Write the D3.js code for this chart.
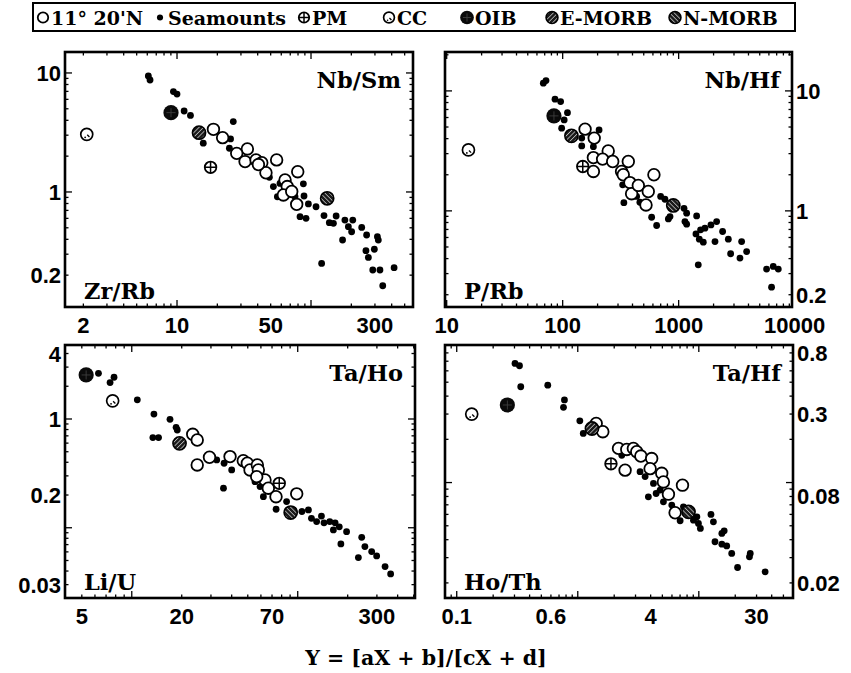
<!DOCTYPE html>
<html><head><meta charset="utf-8">
<script src="https://cdn.jsdelivr.net/npm/d3@7/dist/d3.min.js"></script>
<style>body{margin:0;background:#fff}svg{display:block}</style>
</head><body><svg id="c" width="851" height="673"></svg>
<script>
// ---------------- DATA ----------------
const legendLabels = ["11° 20'N", "Seamounts", "PM", "CC", "OIB", "E-MORB", "N-MORB"];
const refNames = ["PM", "CC", "OIB", "E-MORB", "N-MORB"];
const xTitle = "Y = [aX + b]/[cX + d]";

// Panel 1: X = Zr/Rb, Y = Nb/Sm
const p1Names = ["Zr/Rb", "Nb/Sm"];
const p1XTicks = [2, 10, 50, 300];
const p1YTicks = [0.2, 1, 10];
const p1Ridge = [[18.7,3.36],[21.9,2.86],[33.5,2.30],[27.9,2.11],[32.2,1.80],[38.9,1.86],[42.9,1.76],[46.1,1.45],[55.4,1.86],[64.0,1.26],[66.5,1.11],[62.2,0.944],[71.8,1.01],[79.6,1.48],[78.2,0.787],[40.5,1.70]];
const p1Seamounts = [[6.11,9.43],[6.29,8.73],[9.40,6.97],[10.0,6.65],[11.3,4.79],[12.6,4.40],[26.3,3.90],[15.7,2.57],[25.1,2.79],[24.6,2.33],[56.1,0.912],[58.7,1.18],[87.7,1.17],[88.7,0.925],[95.6,0.793],[82.8,0.620],[91.8,0.600],[109,0.751],[125,0.633],[137,0.552],[147,0.545],[154,0.628],[120,0.251],[172,0.395],[179,0.581],[190,0.511],[201,0.463],[205,0.581],[239,0.504],[260,0.435],[257,0.321],[297,0.330],[268,0.282],[313,0.421],[318,0.394],[289,0.221],[327,0.221],[417,0.231],[343,0.163],[48.9,1.33],[52.4,1.11],[76,0.912]];
const p1Ref = [[17.8,1.61],[2.12,3.05],[9.02,4.64],[14.6,3.15],[132,0.885]];

// Panel 2: X = P/Rb, Y = Nb/Hf
const p2Names = ["P/Rb", "Nb/Hf"];
const p2XTicks = [10, 100, 1000, 10000];
const p2YTicks = [0.2, 1, 10];
const p2Ridge = [[156,4.80],[187,4.04],[184,2.78],[184,2.13],[247,3.16],[221,2.70],[270,2.58],[322,2.13],[368,2.58],[333,2.00],[380,1.72],[393,1.39],[449,1.63],[547,1.45],[523,1.12],[612,2.00]];
const p2Seamounts = [[68.1,11.6],[71.8,12.2],[85.9,8.53],[96.0,8.15],[78.7,6.04],[98,4.89],[110,6.59],[103,5.73],[146,4.04],[146,3.48],[206,4.73],[184,3.43],[329,1.65],[337,1.17],[463,1.18],[585,0.885],[646,0.755],[699,1.32],[762,1.25],[842,0.897],[815,0.857],[1112,1.05],[1172,0.957],[1133,0.815],[1172,0.774],[1429,0.908],[1410,0.643],[1507,0.581],[1631,0.548],[1476,0.355],[1545,0.695],[1685,0.718],[1899,0.764],[2125,0.815],[2057,0.555],[2393,0.673],[2681,0.581],[2806,0.439],[3491,0.555],[3377,0.404],[3855,0.458],[5729,0.327],[6543,0.344],[7229,0.327],[6324,0.231],[434,1.32],[566,1.40]];
const p2Ref = [[149,2.34],[15.4,3.22],[84.1,6.19],[119,4.22],[899,1.11]];

// Panel 3: X = Li/U, Y = Ta/Ho
const p3Names = ["Li/U", "Ta/Ho"];
const p3XTicks = [5, 20, 70, 300];
const p3YTicks = [0.03, 0.2, 1, 4];
const p3Ridge = [[23.3,0.723],[24.8,0.641],[24.8,0.378],[29.4,0.445],[39.1,0.451],[47.0,0.414],[49.7,0.392],[51.6,0.340],[57.1,0.378],[57.9,0.340],[63.5,0.275],[66.5,0.231],[74.0,0.193],[98.6,0.205],[56.6,0.295]];
const p3Seamounts = [[6.30,2.63],[7.40,2.16],[7.82,2.42],[10.8,1.50],[13.6,1.11],[13.4,0.675],[14.5,0.675],[17.0,0.993],[18.5,0.838],[18.8,0.792],[32.5,0.420],[36.0,0.392],[40.0,0.340],[35.7,0.231],[55.3,0.265],[59.3,0.239],[62.1,0.193],[74.1,0.148],[85.7,0.174],[94.1,0.146],[106,0.141],[116,0.146],[121,0.122],[130,0.114],[139,0.128],[144,0.111],[156,0.114],[168,0.111],[164,0.0955],[178,0.102],[197,0.092],[182,0.071],[243,0.0817],[254,0.0671],[279,0.0604],[299,0.0551],[232,0.0532],[336,0.0440],[363,0.0376]];
const p3Ref = [[77.4,0.256],[7.67,1.47],[5.31,2.54],[19.4,0.597],[90.7,0.138]];

// Panel 4: X = Ho/Th, Y = Ta/Hf
const p4Names = ["Ho/Th", "Ta/Hf"];
const p4XTicks = [0.1, 0.6, 4, 30];
const p4YTicks = [0.02, 0.08, 0.3, 0.8];
const p4Ridge = [[1.42,0.258],[1.61,0.226],[2.17,0.173],[2.54,0.170],[2.88,0.173],[3.07,0.164],[3.32,0.153],[4.08,0.147],[3.96,0.125],[2.46,0.122],[4.94,0.116],[5.10,0.101],[5.61,0.0830],[7.33,0.0959],[6.37,0.0616]];
const p4Seamounts = [[0.303,0.676],[0.330,0.651],[0.338,0.465],[0.565,0.477],[0.776,0.376],[0.762,0.334],[1.04,0.269],[1.11,0.220],[2.31,0.155],[3.27,0.119],[3.60,0.110],[3.83,0.0796],[4.22,0.0986],[4.79,0.0886],[4.44,0.0839],[5.10,0.0734],[5.98,0.0697],[7.01,0.0542],[7.46,0.0678],[9.03,0.0547],[9.93,0.0519],[10.3,0.0479],[9.64,0.0577],[12.6,0.0600],[13.2,0.0533],[13.6,0.0387],[15.5,0.0442],[16.2,0.0461],[15.5,0.0372],[17.0,0.0362],[18.7,0.0321],[20.9,0.0256],[26.6,0.0321],[26.2,0.0304],[35.3,0.0239]];
const p4Ref = [[1.88,0.135],[0.133,0.300],[0.262,0.347],[1.31,0.238],[8.22,0.0625]];

// ---------------- LAYOUT ----------------
const svg = d3.select("#c");
const defs = svg.append("defs");
function hatch(id, angle) {
  const p = defs.append("pattern").attr("id", id).attr("patternUnits", "userSpaceOnUse")
    .attr("width", 3.2).attr("height", 3.2).attr("patternTransform", `rotate(${angle})`);
  p.append("rect").attr("width", 3.2).attr("height", 3.2).attr("fill", "#1a1a1a");
  p.append("line").attr("x1", 0).attr("y1", 0).attr("x2", 0).attr("y2", 3.2)
    .attr("stroke", "#fff").attr("stroke-width", 1.1);
}
hatch("hE", 45);
hatch("hN", -45);

const serif = "'DejaVu Serif', serif";
const sans = "'Liberation Sans', Arial, sans-serif";

function sym(g, type, cx, cy, s = 1) {
  if (type === "ridge") {
    g.append("circle").attr("cx", cx).attr("cy", cy).attr("r", 5.8 * s)
      .attr("fill", "#fff").attr("stroke", "#000").attr("stroke-width", 1.8);
  } else if (type === "sea") {
    g.append("circle").attr("cx", cx).attr("cy", cy).attr("r", 3.4 * s).attr("fill", "#000");
  } else if (type === "PM") {
    const r = 5.8 * s;
    g.append("circle").attr("cx", cx).attr("cy", cy).attr("r", r)
      .attr("fill", "#fff").attr("stroke", "#000").attr("stroke-width", 1.8);
    g.append("path").attr("d", `M${cx - r},${cy}H${cx + r}M${cx},${cy - r}V${cy + r}`)
      .attr("stroke", "#000").attr("stroke-width", 1.5);
  } else if (type === "CC") {
    const r = 6 * s;
    g.append("circle").attr("cx", cx).attr("cy", cy).attr("r", r)
      .attr("fill", "#fff").attr("stroke", "#000").attr("stroke-width", 1.7);
    g.append("path").attr("d", `M${cx + 0.5 * s},${cy + 0.5 * s}l${2.2 * s},${2.2 * s}`)
      .attr("stroke", "#000").attr("stroke-width", 1.3);
    g.append("circle").attr("cx", cx - 1.6 * s).attr("cy", cy + 3 * s).attr("r", 0.9 * s).attr("fill", "#000");
  } else if (type === "OIB") {
    const r = 7.6 * s;
    g.append("circle").attr("cx", cx).attr("cy", cy).attr("r", r).attr("fill", "#0a0a0a");
    g.append("path").attr("d", `M${cx - r * 0.6},${cy}H${cx + r * 0.6}M${cx},${cy - r * 0.6}V${cy + r * 0.6}`)
      .attr("stroke", "#444").attr("stroke-width", 0.8);
  } else if (type === "E-MORB" || type === "N-MORB") {
    g.append("circle").attr("cx", cx).attr("cy", cy).attr("r", 6.6 * s)
      .attr("fill", type === "E-MORB" ? "url(#hE)" : "url(#hN)")
      .attr("stroke", "#000").attr("stroke-width", 1.6);
  }
}

const fmt = v => (v >= 1 ? d3.format("d")(v) : String(v));

const panels = [
  { names: p1Names, xt: p1XTicks, yt: p1YTicks, ridge: p1Ridge, sea: p1Seamounts, ref: p1Ref,
    x0: 65, x1: 413, y0: 52, y1: 307, xd: [1.459, 577], yd: [0.108, 15.0], ySide: "left" },
  { names: p2Names, xt: p2XTicks, yt: p2YTicks, ridge: p2Ridge, sea: p2Seamounts, ref: p2Ref,
    x0: 445, x1: 792, y0: 52, y1: 307, xd: [9.67, 9490], yd: [0.158, 21.1], ySide: "right" },
  { names: p3Names, xt: p3XTicks, yt: p3YTicks, ridge: p3Ridge, sea: p3Seamounts, ref: p3Ref,
    x0: 65, x1: 415, y0: 345, y1: 598, xd: [3.96, 509], yd: [0.0226, 4.79], ySide: "left" },
  { names: p4Names, xt: p4XTicks, yt: p4YTicks, ridge: p4Ridge, sea: p4Seamounts, ref: p4Ref,
    x0: 445, x1: 793, y0: 345, y1: 598, xd: [0.08, 60], yd: [0.0157, 0.908], ySide: "right" }
];

panels.forEach(P => {
  const x = d3.scaleLog().domain(P.xd).range([P.x0, P.x1]);
  const y = d3.scaleLog().domain(P.yd).range([P.y1, P.y0]);
  const g = svg.append("g");

  // ticks (inward on all four sides)
  const isMajor = v => Math.abs(Math.log10(v) - Math.round(Math.log10(v))) < 1e-6;
  const tg = g.append("g").attr("stroke", "#000").attr("stroke-width", 1.3);
  x.ticks().forEach(v => {
    const L = isMajor(v) ? 7 : 3.5, px = x(v);
    if (px <= P.x0 + 1 || px >= P.x1 - 1) return;
    tg.append("line").attr("x1", px).attr("x2", px).attr("y1", P.y1).attr("y2", P.y1 - L);
    tg.append("line").attr("x1", px).attr("x2", px).attr("y1", P.y0).attr("y2", P.y0 + L);
  });
  y.ticks().forEach(v => {
    const L = isMajor(v) ? 7 : 3.5, py = y(v);
    if (py <= P.y0 + 1 || py >= P.y1 - 1) return;
    tg.append("line").attr("y1", py).attr("y2", py).attr("x1", P.x0).attr("x2", P.x0 + L);
    tg.append("line").attr("y1", py).attr("y2", py).attr("x1", P.x1).attr("x2", P.x1 - L);
  });

  // frame
  g.append("rect").attr("x", P.x0).attr("y", P.y0).attr("width", P.x1 - P.x0).attr("height", P.y1 - P.y0)
    .attr("fill", "none").attr("stroke", "#000").attr("stroke-width", 2.6);

  // tick labels
  P.xt.forEach(v => {
    g.append("text").attr("x", x(v)).attr("y", P.y1 + 26).attr("text-anchor", "middle")
      .attr("font-family", sans).attr("font-weight", "bold").attr("font-size", 22).text(fmt(v));
  });
  P.yt.forEach(v => {
    const left = P.ySide === "left";
    g.append("text").attr("x", left ? P.x0 - 4 : P.x1 + 4).attr("y", y(v) + 8)
      .attr("text-anchor", left ? "end" : "start")
      .attr("font-family", sans).attr("font-weight", "bold").attr("font-size", 22).text(fmt(v));
  });

  // ratio names
  g.append("text").attr("x", P.x1 - 12).attr("y", P.y0 + 36).attr("text-anchor", "end")
    .attr("font-family", serif).attr("font-weight", "bold").attr("font-size", 22.5).text(P.names[1]);
  g.append("text").attr("x", P.x0 + 19).attr("y", P.y1 - 8).attr("text-anchor", "start")
    .attr("font-family", serif).attr("font-weight", "bold").attr("font-size", 22.5).text(P.names[0]);

  // points
  const pg = g.append("g");
  P.sea.forEach(d => sym(pg, "sea", x(d[0]), y(d[1])));
  P.ridge.forEach(d => sym(pg, "ridge", x(d[0]), y(d[1])));
  P.ref.forEach((d, i) => sym(pg, refNames[i], x(d[0]), y(d[1])));
});

// x title
svg.append("text").attr("x", 426).attr("y", 665).attr("text-anchor", "middle")
  .attr("font-family", serif).attr("font-weight", "bold").attr("font-size", 20.5).text(xTitle);

// legend
const lg = svg.append("g");
lg.append("rect").attr("x", 33).attr("y", 3).attr("width", 762).attr("height", 28)
  .attr("fill", "#fff").attr("stroke", "#000").attr("stroke-width", 2);
const legSymX = [43, 160, 304, 389, 467, 552, 675];
const legTypes = ["ridge", "sea", "PM", "CC", "OIB", "E-MORB", "N-MORB"];
legendLabels.forEach((t, i) => {
  sym(lg, legTypes[i], legSymX[i], 17.5, 0.9);
  lg.append("text").attr("x", legSymX[i] + 8).attr("y", 24.5).attr("font-family", serif)
    .attr("font-weight", "bold").attr("font-size", 19).text(t);
});
</script></body></html>
